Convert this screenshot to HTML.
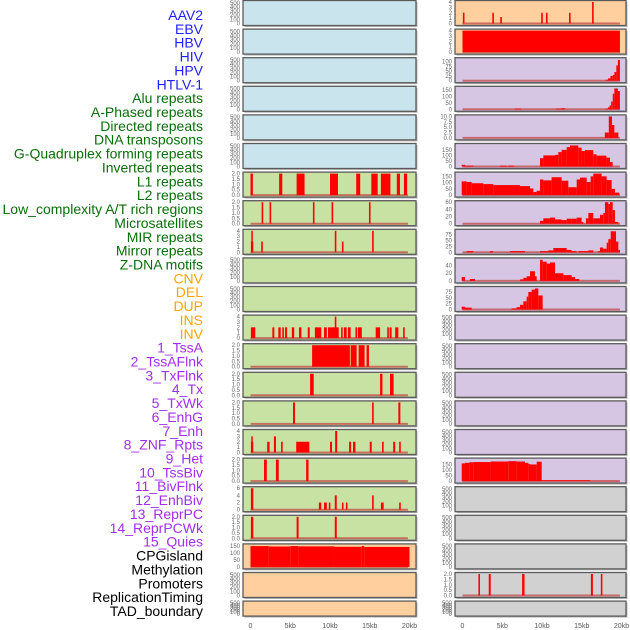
<!DOCTYPE html>
<html><head><meta charset="utf-8">
<style>
html,body{margin:0;padding:0;background:#fff;}
svg{display:block;font-family:"Liberation Sans",sans-serif;}
</style></head>
<body>
<svg id="chart" width="630" height="630" viewBox="0 0 630 630"></svg>
<script>
const labels=["AAV2","EBV","HBV","HIV","HPV","HTLV-1","Alu repeats","A-Phased repeats","Directed repeats","DNA transposons","G-Quadruplex forming repeats","Inverted repeats","L1 repeats","L2 repeats","Low_complexity A/T rich regions","Microsatellites","MIR repeats","Mirror repeats","Z-DNA motifs","CNV","DEL","DUP","INS","INV","1_TssA","2_TssAFlnk","3_TxFlnk","4_Tx","5_TxWk","6_EnhG","7_Enh","8_ZNF_Rpts","9_Het","10_TssBiv","11_BivFlnk","12_EnhBiv","13_ReprPC","14_ReprPCWk","15_Quies","CPGisland","Methylation","Promoters","ReplicationTiming","TAD_boundary"];
const labelGroups=[6,13,5,15,5];
const groupColors=["#1f1fff","#0a6e0a","#ffa500","#a22ef0","#000000"];
const xTicks=[0,5,10,15,20];
const xTickLabels=["0","5kb","10kb","15kb","20kb"];

// left column data: [start kb, end kb, value]
const L6=[[0,0.3,2],[3.6,4.0,2],[5.8,6.8,2],[10,11,2],[13.3,13.8,2],[15.2,16,2],[16.4,17.6,2],[18.4,18.8,2],[19.3,19.7,2]];
const L7=[[1.4,1.6,2],[2.4,2.6,2],[7.85,8.05,2],[10.2,10.4,2],[14.9,15.1,2]];
const L8=[[0.05,0.35,2],[0.1,0.25,4],[1.35,1.55,2],[10.6,10.8,4],[11.5,11.7,2],[15.3,15.5,4]];
const L11=[[0.05,0.6,2],[2.75,3.0,2],[3.5,3.8,2],[4.0,4.2,2],[4.35,4.6,2],[5.2,5.5,2],[6.1,6.4,2],[7.2,7.45,2],[8.1,8.9,2],[9.25,9.6,2],[9.75,11.1,2],[10.6,10.8,4],[11.4,11.6,2],[11.75,12.1,2],[12.25,12.6,2],[13.2,13.4,2],[13.5,14.0,2],[15.75,16.3,2],[17.2,17.4,2],[17.5,17.75,2],[18.2,18.6,2],[19.2,19.4,2]];
const L12=[[7.75,12.5,2],[12.6,13.35,2],[13.6,14.35,2],[14.6,14.9,2]];
const L13=[[7.5,7.95,2],[16.3,16.6,2],[17.55,18.0,2]];
const L14=[[5.35,5.6,2],[15.3,15.5,2],[18.6,18.85,2]];
const L15=[[0.05,0.35,2],[0.1,0.25,3],[2.1,2.4,2],[2.95,3.2,3],[3.85,4.05,2],[5.75,7.4,2],[10.0,10.25,2],[10.65,10.9,4],[12.4,12.65,2],[12.9,13.2,2],[15.0,15.25,2],[16.55,16.75,2],[17.95,18.2,2],[18.7,18.9,2]];
const L16=[[1.7,2.05,2],[3.2,3.55,2],[7.0,7.3,2]];
const L17=[[0.05,0.35,6],[8.6,8.9,2],[9.25,9.6,2],[9.85,10.05,2],[10.6,10.85,4],[11.5,11.7,2],[12.0,12.2,2],[15.3,15.5,4],[16.4,16.75,2],[18.7,18.9,2]];
const L18=[[0.05,0.35,2],[5.8,6.05,2],[10.6,10.85,2]];
const L19=[[0,2.3,150],[2.3,5,147],[5,6,150],[6,10.5,148],[10.5,14,145],[14,14.3,150],[14.3,20,144]];

// right column data
const R0=[[0.05,0.25,2],[3.75,3.95,2],[4.75,4.95,1.2],[9.9,10.1,2],[10.5,10.7,2],[13.4,13.6,2],[16.3,16.5,4]];
const R1=[[0,19.8,4]];
const R2=[[18.0,18.3,5],[18.3,18.6,12],[18.6,18.9,25],[18.9,19.1,30],[19.1,19.35,45],[19.35,19.55,80],[19.55,19.8,108]];
const R3=[[6.6,7.35,5],[11.75,12.4,5],[12.4,12.9,8],[18.0,18.3,5],[18.3,18.5,15],[18.5,18.7,30],[18.7,18.9,60],[18.9,19.1,120],[19.1,19.55,160],[19.55,19.8,140]];
const R4=[[17.9,18.4,2.5],[18.4,18.8,10],[18.8,19.1,6],[19.1,19.6,2.5]];
const R5=[[-0.1,0.31,15],[0.31,1.36,8],[4.71,5.55,8],[5.76,6.48,8],[9.75,10.17,75],[10.17,11.64,100],[11.64,12.05,105],[12.05,12.47,130],[12.47,13.1,150],[13.1,13.52,175],[13.52,14.57,190],[14.57,14.98,170],[14.98,15.4,140],[15.4,16.45,148],[16.45,16.87,110],[16.87,18.1,98],[18.1,18.55,80],[18.55,18.89,40]];
const R6=[[-0.1,0.52,110],[0.52,1.15,105],[1.15,2.62,95],[2.62,3.88,88],[3.88,7.23,80],[7.23,8.49,72],[8.49,8.91,53],[8.91,9.33,25],[9.33,9.75,35],[9.75,10.17,125],[10.17,11.21,118],[11.21,12.47,143],[12.47,13.31,115],[13.31,14.36,63],[14.36,14.78,125],[14.78,15.62,140],[15.62,16.12,105],[16.12,16.45,150],[16.45,17.5,172],[17.5,18.13,150],[18.13,18.76,120],[18.76,19.18,50],[19.18,19.73,20]];
const R7=[[9.75,10.17,8],[10.17,11.0,15],[11.0,11.64,17],[11.64,12.47,12],[12.47,13.1,10],[13.1,13.73,14],[13.73,14.36,14],[14.36,14.98,17],[14.98,15.2,5],[15.53,15.83,15],[15.83,16.45,30],[16.45,17.29,15],[17.29,17.71,25],[17.71,17.92,30],[17.92,18.34,60],[18.34,18.55,55],[18.55,18.89,60],[18.89,19.18,38],[19.18,19.6,5]];
const R8=[[0.52,1.36,5],[3.46,3.88,5],[5.97,7.86,5],[9.75,10.8,5],[10.8,11.43,8],[11.43,13.1,18],[13.1,13.73,10],[13.73,14.36,5],[14.57,15.83,5],[15.83,16.45,8],[17.08,17.29,5],[17.29,17.71,20],[17.71,18.13,15],[18.13,18.34,40],[18.34,18.64,55],[18.64,19.31,88],[19.31,19.6,45],[19.6,19.81,10]];
const R9=[[-0.1,0.31,10],[0.94,1.57,5],[7.23,7.65,4],[7.65,8.07,8],[8.07,8.49,12],[8.49,9.12,25],[9.12,9.33,12],[9.75,10.08,55],[10.08,10.59,50],[10.59,11.0,45],[11.0,11.64,48],[11.64,12.68,20],[12.68,13.73,15],[13.73,14.15,10],[14.15,14.69,5]];
const R10=[[-0.1,0.31,12],[0.31,1.15,8],[6.18,6.81,5],[6.81,7.23,10],[7.23,7.65,20],[7.65,8.07,35],[8.07,8.28,55],[8.28,8.7,75],[8.7,9.12,85],[9.12,9.54,90],[9.54,10.08,60]];
const R16=[[-0.1,0.31,160],[0.31,0.86,165],[0.86,1.36,170],[1.36,3.54,172],[3.54,5.76,177],[5.76,6.81,180],[6.81,7.86,177],[7.86,8.28,165],[8.28,8.49,155],[8.49,9.33,150],[9.33,9.96,175],[9.96,16.03,8],[16.03,19.7,2]];
const R20=[[2.0,2.2,2],[3.3,3.55,2],[7.5,7.8,2],[16.15,16.4,2],[17.4,17.6,2]];

const tk0_500=[0,100,200,300,400,500];
const tk2=[0,0.5,1,1.5,2];
const tk4=[0,1,2,3,4];
const tk6=[0,2,4,6];
const tk150=[0,50,100,150];
const tk100=[0,25,50,75,100];
const tk10=[0,2.5,5,7.5,10];
const tk60=[0,20,40,60];
const tk75=[0,25,50,75];
const tk40=[0,20,40];

const BLUE="#c9e4ec",GREEN="#c8e2a4",ORANGE="#ffcf9e",PURPLE="#d6c6e3",GREY="#d1d1d1";
// per row: [leftBg,leftData,leftTicks,leftMax,leftFmt, rightBg,rightData,rightTicks,rightMax,rightFmt]
const rows=[
 [BLUE,null,tk0_500,520,0, ORANGE,R0,tk4,4,0],
 [BLUE,null,tk0_500,520,0, ORANGE,R1,tk4,4,0],
 [BLUE,null,tk0_500,520,0, PURPLE,R2,tk100,112,0],
 [BLUE,null,tk0_500,520,0, PURPLE,R3,tk150,165,0],
 [BLUE,null,tk0_500,520,0, PURPLE,R4,tk10,10,1],
 [BLUE,null,tk0_500,520,0, PURPLE,R5,tk150,194,0],
 [GREEN,L6,tk2,2,1, PURPLE,R6,tk150,172,0],
 [GREEN,L7,tk2,2,1, PURPLE,R7,tk60,60,0],
 [GREEN,L8,tk4,4,0, PURPLE,R8,tk75,90,0],
 [GREEN,null,tk0_500,520,0, PURPLE,R9,tk40,56,0],
 [GREEN,null,tk0_500,520,0, PURPLE,R10,tk75,92,0],
 [GREEN,L11,tk4,4,0, PURPLE,null,tk0_500,520,0],
 [GREEN,L12,tk2,2,1, PURPLE,null,tk0_500,520,0],
 [GREEN,L13,tk2,2,1, PURPLE,null,tk0_500,520,0],
 [GREEN,L14,tk2,2,1, PURPLE,null,tk0_500,520,0],
 [GREEN,L15,tk4,4,0, PURPLE,null,tk0_500,520,0],
 [GREEN,L16,tk2,2,1, PURPLE,R16,tk150,194,0],
 [GREEN,L17,tk6,6,0, GREY,null,tk0_500,520,0],
 [GREEN,L18,tk2,2,1, GREY,null,tk0_500,520,0],
 [ORANGE,L19,tk150,155,0, GREY,null,tk0_500,520,0],
 [ORANGE,null,tk0_500,520,0, GREY,R20,tk2,2,1],
 [ORANGE,null,tk0_500,520,0, GREY,null,tk0_500,520,0]
];

const NS="http://www.w3.org/2000/svg";
const svg=document.getElementById("chart");
function mk(tag,attrs,parent){const e=document.createElementNS(NS,tag);for(const k in attrs)e.setAttribute(k,attrs[k]);(parent||svg).appendChild(e);return e;}

// labels
let li=0;
labelGroups.forEach((n,g)=>{for(let j=0;j<n;j++){
  const t=mk("text",{x:203,y:15+li*13.86+5,"text-anchor":"end","font-size":"14",fill:groupColors[g]});
  
  
  t.textContent=labels[li];li++;}});

const cols=[{x0:243,x1:416,zero:250.5},{x0:455,x1:626,zero:462.5}];
const pxPerKb=7.95;
function xs(c,kb){return cols[c].zero+kb*pxPerKb;}

rows.forEach((r,i)=>{
  const top=0.5+i*28.6;
  const h=(i===rows.length-1)?15:25;
  for(let c=0;c<2;c++){
    const bg=r[c*5],data=r[c*5+1],ticks=r[c*5+2],ymax=r[c*5+3],fmt=r[c*5+4];
    const g=mk("g",{});
    
    
    const X0=cols[c].x0,X1=cols[c].x1;
    mk("rect",{x:X0+1.5,y:top+1.5,width:X1-X0,height:h,fill:"#b8b8b8"},g);
    mk("rect",{x:X0,y:top,width:X1-X0,height:h,fill:bg,stroke:"#5a5a5a","stroke-width":1.3},g);
    const yb=top+h-2,yt=top+1.5;
    const ys=v=>yb-(v/ymax)*(yb-yt);
    if(data){
      mk("line",{x1:xs(c,0),x2:xs(c,19.8),y1:yb,y2:yb,stroke:"#c04040","stroke-width":2,"stroke-opacity":0.7},g);
      data.forEach(d=>{
        const x=xs(c,d[0]),w=Math.max(1.5,xs(c,d[1])-x);
        const b=mk("rect",{x:x,y:ys(d[2]),width:w,height:yb-ys(d[2]),fill:"#ff0000"},g);
        
        
      });
    }
    ticks.forEach(t=>{
      const tx=mk("text",{x:X0-3,y:ys(t)+2,"text-anchor":"end","font-size":"6",fill:"#666"},g);
      
      
      tx.textContent=fmt?t.toFixed(1):String(t);
    });
  }
});

for(let c=0;c<2;c++){
  xTicks.forEach((t,k)=>{
    const tx=mk("text",{x:xs(c,t),y:628,"text-anchor":"middle","font-size":"7",fill:"#555"});
    
    
    tx.textContent=xTickLabels[k];
  });
}
</script>
</body></html>
